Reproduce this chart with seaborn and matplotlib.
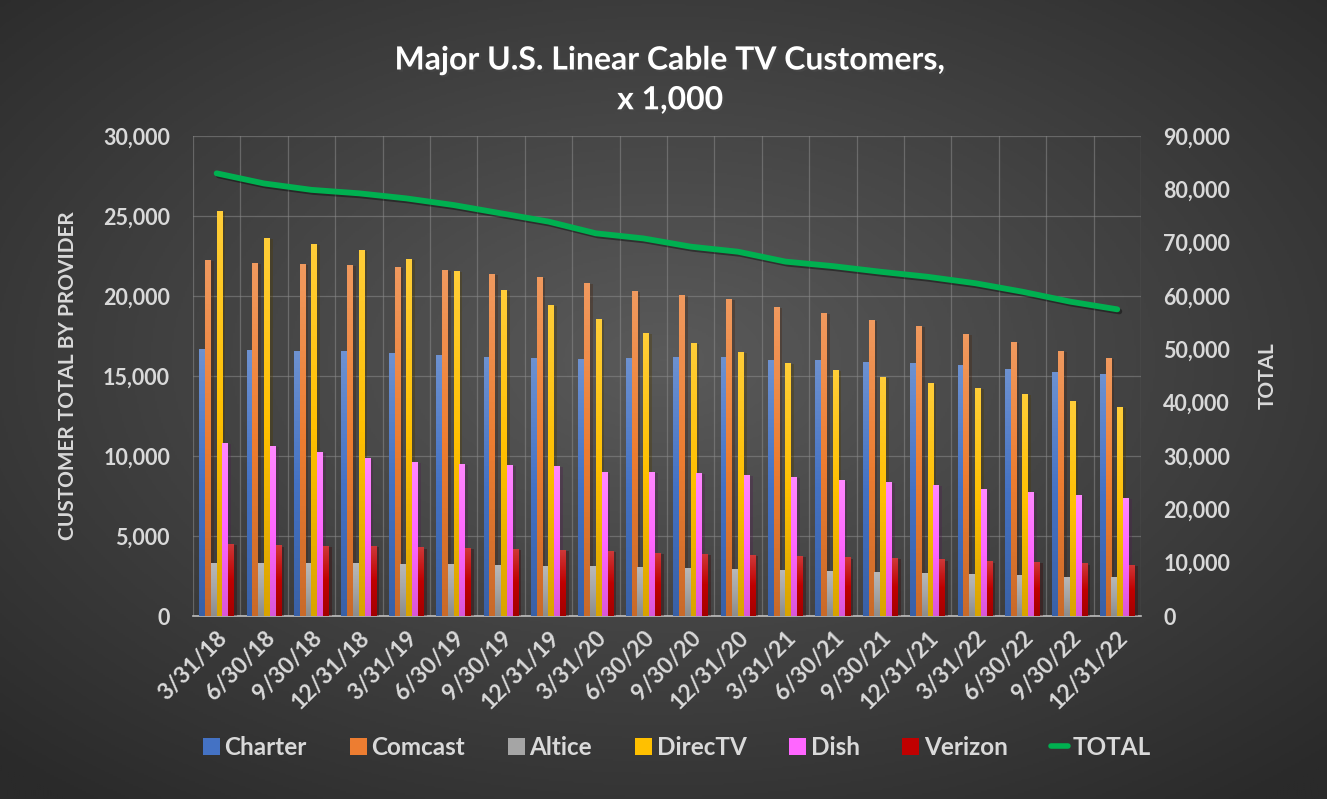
import numpy as np
import pandas as pd
import seaborn as sns
import matplotlib.pyplot as plt
import matplotlib.ticker as mtick
import matplotlib.patheffects as pe
from matplotlib.patches import Patch
from matplotlib.lines import Line2D
from matplotlib.colors import to_rgb, LinearSegmentedColormap

quarters = ['3/31/18', '6/30/18', '9/30/18', '12/31/18', '3/31/19', '6/30/19',
            '9/30/19', '12/31/19', '3/31/20', '6/30/20', '9/30/20', '12/31/20',
            '3/31/21', '6/30/21', '9/30/21', '12/31/21', '3/31/22', '6/30/22',
            '9/30/22', '12/31/22']

charter = [16700, 16620, 16560, 16560, 16440, 16310, 16190, 16120, 16060, 16120,
           16190, 16190, 16000, 16000, 15880, 15810, 15690, 15440, 15250, 15130]
comcast = [22250, 22060, 22000, 21940, 21810, 21620, 21370, 21190, 20810, 20310,
           20060, 19810, 19310, 18940, 18500, 18120, 17620, 17120, 16560, 16120]
altice = [3310, 3310, 3310, 3310, 3250, 3250, 3190, 3120, 3120, 3060,
          3000, 2940, 2880, 2810, 2750, 2690, 2620, 2560, 2440, 2440]
directv = [25310, 23620, 23250, 22880, 22310, 21560, 20380, 19440, 18560, 17690,
           17060, 16500, 15810, 15380, 14940, 14560, 14250, 13880, 13440, 13060]
dish = [10810, 10620, 10250, 9880, 9620, 9500, 9440, 9380, 9000, 9000,
        8940, 8810, 8690, 8500, 8380, 8190, 7940, 7750, 7560, 7380]
verizon = [4500, 4420, 4380, 4380, 4290, 4250, 4190, 4120, 4060, 3940,
           3880, 3810, 3750, 3670, 3620, 3540, 3420, 3380, 3290, 3190]
total = [83000, 81100, 79900, 79250, 78300, 77050, 75500, 73950, 71750, 70800,
         69250, 68300, 66450, 65600, 64550, 63600, 62400, 60800, 58950, 57500]

providers = ['Charter', 'Comcast', 'Altice', 'DirecTV', 'Dish', 'Verizon']
series = [charter, comcast, altice, directv, dish, verizon]
colors = ['#4472C4', '#ED7D31', '#A5A5A5', '#FFC000', '#FF66FF', '#C00000']
line_color = '#00B050'
text_color = '#D9D9D9'

df = pd.DataFrame({
    'quarter': np.tile(quarters, len(providers)),
    'provider': np.repeat(providers, len(quarters)),
    'customers': np.concatenate(series),
})

sns.set_style('dark')
plt.rcParams['font.family'] = ['Lato', 'DejaVu Sans']
plt.rcParams['font.weight'] = 'bold'
plt.rcParams['axes.labelweight'] = 'bold'

fig = plt.figure(figsize=(13.27, 7.99), dpi=100)

# radial background gradient
bg = fig.add_axes([0, 0, 1, 1], zorder=-10)
yy, xx = np.mgrid[0:1:400j, 0:1:660j]
r = np.sqrt(((xx - 0.5) / 0.75) ** 2 + ((yy - 0.45) / 0.75) ** 2)
bg.imshow(np.clip(r, 0, 1), cmap=sns.blend_palette(['#5a5a5a', '#2a2a2a'], as_cmap=True),
          aspect='auto', extent=[0, 1, 0, 1], vmin=0, vmax=0.95)
bg.axis('off')

ax = fig.add_axes([0.1454, 0.229, 0.7144, 0.6008])
ax.patch.set_alpha(0)
sns.barplot(data=df, x='quarter', y='customers', hue='provider', hue_order=providers,
            palette=colors, saturation=1, width=0.74, ax=ax, legend=False,
            linewidth=0, zorder=3)

# vertical shading on each bar, lighter at the top
grad = np.linspace(1, 0, 64).reshape(-1, 1)
for bar in list(ax.patches):
    c = np.array(to_rgb(bar.get_facecolor()))
    top = c + (1 - c) * 0.22
    bot = c * 0.85
    cmap = LinearSegmentedColormap.from_list('g', [bot, c, top])
    x0, w, h = bar.get_x(), bar.get_width(), bar.get_height()
    im = ax.imshow(grad, cmap=cmap, aspect='auto', extent=(x0, x0 + w, 0, h),
                   zorder=3.5, vmin=0, vmax=1)
    im.set_clip_path(bar)
    bar.set_path_effects([pe.SimplePatchShadow(offset=(2, -1), alpha=0.35), pe.Normal()])

ax2 = ax.twinx()
sns.lineplot(x=np.arange(len(quarters)), y=total, ax=ax2, color=line_color, lw=4.2,
             solid_capstyle='round', zorder=5,
             path_effects=[pe.SimpleLineShadow(offset=(1.5, -1.5), alpha=0.4), pe.Normal()])

ax.set_xlim(-0.5, len(quarters) - 0.5)
ax.set_ylim(0, 30000)
ax2.set_ylim(0, 90000)
ax.yaxis.set_major_locator(mtick.MultipleLocator(5000))
ax2.yaxis.set_major_locator(mtick.MultipleLocator(10000))
fmt = mtick.StrMethodFormatter('{x:,.0f}')
ax.yaxis.set_major_formatter(fmt)
ax2.yaxis.set_major_formatter(fmt)

ax.set_xticks(np.arange(-0.5, len(quarters), 1), minor=True)
ax.grid(which='major', axis='y', color='#8a8a8a', lw=0.9, alpha=0.55, zorder=0)
ax.grid(which='minor', axis='x', color='#8a8a8a', lw=0.9, alpha=0.55, zorder=0)
ax.grid(which='major', axis='x', visible=False)
ax.set_axisbelow(True)

for a in (ax, ax2):
    for s in a.spines.values():
        s.set_visible(False)
    a.tick_params(length=0, colors=text_color, labelsize=15.5)
ax.spines['bottom'].set_visible(True)
ax.spines['bottom'].set_color('#BFBFBF')
ax.spines['bottom'].set_linewidth(1.2)
ax.tick_params(axis='y', pad=16.5)
ax2.tick_params(axis='y', pad=16)
ax.tick_params(axis='x', which='both', length=0, pad=8)
plt.setp(ax.get_xticklabels(), rotation=45, ha='right', rotation_mode='anchor',
         fontsize=16.5)

ax.set_xlabel('')
ax.set_ylabel('CUSTOMER TOTAL BY PROVIDER', color=text_color, fontsize=15, labelpad=18)
ax2.set_ylabel('TOTAL', color=text_color, fontsize=15, labelpad=20)

fig.text(0.505, 0.9, 'Major U.S. Linear Cable TV Customers,\nx 1,000', ha='center',
         va='center', color='white', fontsize=23, linespacing=1.45,
         path_effects=[pe.withSimplePatchShadow(offset=(1.5, -1.5), alpha=0.5)])

handles = [Patch(facecolor=c, edgecolor='none', label=p) for p, c in zip(providers, colors)]
handles.append(Line2D([0], [0], color=line_color, lw=4, label='TOTAL', solid_capstyle='round'))
fig.legend(handles=handles, loc='center', bbox_to_anchor=(0.51, 0.065), ncol=7,
           frameon=False, fontsize=17.5, labelcolor=text_color, handlelength=0.7,
           handleheight=0.7, handletextpad=0.2, columnspacing=1.75)

fig.savefig('out.png', dpi=100, facecolor='#3a3a3a')
